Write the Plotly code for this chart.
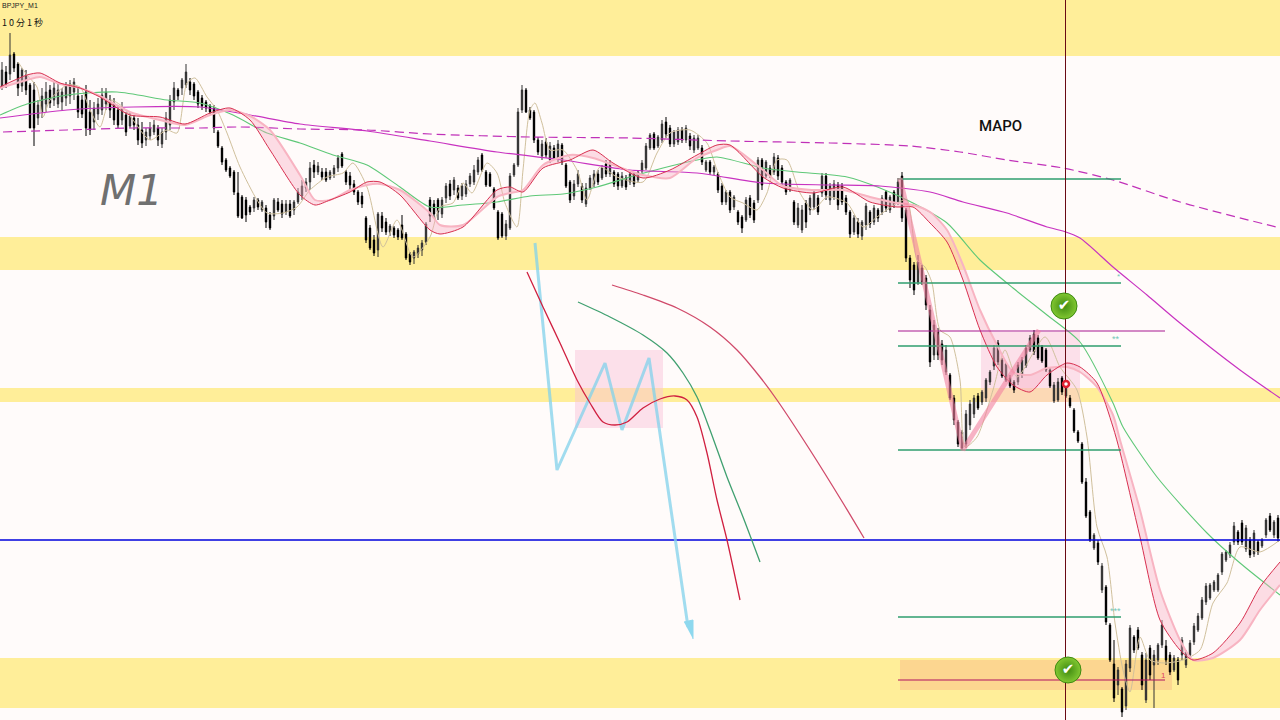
import numpy as np
import plotly.graph_objects as go

# ---- candle data (one value per minute bar; chart scale runs downward)
highs = [62,66,33,52,62,68,70,83,82,100, 88,82,85,82,84,88,82,80,78,88, 95,85,100,102,98,88,88,95,98,105, 102,112,112,115,118,122,128,122,120,125,
 128,112,95,82,88,78,64,78,82,90, 95,100,104,105,130,146,158,166,170,172, 195,197,205,197,198,200,205,212,198,198, 200,200,200,200,188,180,178,162,160,162,
 168,168,170,165,155,152,170,172,180,190, 192,216,225,235,212,212,218,224,226,228, 215,232,252,250,245,240,222,197,200,198, 197,183,180,177,185,183,180,173,165,157,
 153,170,172,187,210,212,220,173,163,108, 85,88,107,110,137,140,138,142,145,140, 143,163,180,180,170,183,183,175,170,170, 165,160,160,170,172,172,175,172,172,170,
 160,143,133,132,135,120,117,125,130,127, 127,125,133,135,135,145,160,160,165,172, 183,190,190,195,210,215,197,195,200,157, 158,160,165,153,155,165,180,178,200,203,
 205,200,195,190,195,173,173,183,180,182, 183,195,210,215,218,220,203,210,205,208, 195,190,195,190,178,172,208,255,262,255, 265,275,305,320,328,340,345,373,395,420,
 430,410,400,395,393,390,378,370,345,340, 358,362,375,380,362,357,345,335,330,335, 345,348,368,382,378,376,380,395,408,430, 442,478,510,533,540,563,585,623,640,667,
 687,660,625,635,627,652,653,645,650,643, 620,640,652,655,657,637,650,640,623,613, 597,583,583,580,573,552,550,542,522,530, 520,525,537,530,540,538,518,513,520,515]
lows = [90,88,80,72,96,92,95,128,146,125, 118,112,108,106,108,110,106,104,100,118, 118,136,135,130,120,115,110,118,125,128, 125,136,128,130,145,148,146,140,135,146,
 148,140,130,110,100,95,88,95,100,108, 110,112,114,133,148,165,172,178,195,218, 219,222,215,212,210,212,228,230,220,212, 218,215,218,215,204,200,192,190,178,175,
 180,182,180,178,172,168,185,190,195,205, 208,243,250,256,257,232,235,236,238,240, 240,260,265,264,258,256,245,222,218,220, 218,203,200,195,200,200,197,187,185,175,
 172,187,187,210,240,238,240,230,177,167, 113,113,120,143,155,160,158,163,160,162, 165,188,203,200,187,203,207,190,187,185, 180,177,177,187,190,188,190,185,187,183,
 173,170,150,150,148,143,138,147,147,145, 143,143,150,153,150,165,172,175,175,193, 205,205,213,210,225,233,222,218,223,203, 190,178,178,175,180,185,195,192,225,228,
 233,228,215,210,215,197,200,205,200,210, 205,215,238,235,238,240,230,228,225,222, 215,212,213,208,205,222,262,288,295,285, 285,310,367,360,360,365,375,400,425,447,
 450,448,430,418,410,405,402,385,370,365, 378,382,388,393,385,378,368,352,355,360, 363,372,388,403,402,395,398,408,433,443, 484,518,542,550,565,593,625,662,702,695,
 717,710,672,653,650,690,703,680,708,665, 648,665,675,672,685,660,668,658,645,632, 620,605,600,592,592,575,562,558,545,545, 545,552,558,557,555,548,538,532,538,542]
opens = [86,72,74,54,64,86,76,85,90,118, 112,104,90,100,104,102,98,96,92,96, 100,92,112,122,114,110,104,100,104,110, 120,115,126,118,125,130,140,136,132,128,
 144,132,125,102,90,88,85,82,84,92, 98,102,106,108,132,148,160,168,172,193, 197,200,207,208,200,210,208,215,216,202, 204,212,204,210,202,196,188,182,165,172,
 172,172,178,174,168,154,172,176,184,192, 196,218,228,240,250,216,222,232,228,230, 225,234,254,258,254,250,242,200,204,200, 214,198,184,190,188,196,194,184,182,172,
 155,172,174,189,212,214,236,228,175,165, 110,90,110,112,140,156,142,160,148,158, 145,165,182,196,184,186,204,188,184,174, 178,164,174,172,174,186,178,182,174,180,
 171,168,148,134,146,140,122,128,144,142, 130,140,136,150,148,148,170,162,172,174, 186,202,192,207,212,217,220,198,203,200, 160,176,168,172,158,168,182,190,202,225,
 230,203,210,207,198,193,176,200,197,185, 186,198,212,232,222,236,225,212,222,210, 212,192,210,192,203,176,210,258,265,282, 268,278,310,355,332,344,372,375,398,422,
 448,444,425,414,396,402,398,382,366,343, 360,380,378,382,382,375,366,350,334,338, 347,350,370,401,400,378,396,398,410,432, 444,482,512,548,543,590,587,625,664,685,
 689,706,668,637,630,655,700,648,665,660, 645,646,655,670,660,655,665,655,642,630, 618,602,598,590,590,572,560,555,542,532, 523,549,540,554,542,546,535,516,535,518]
closes = [70,84,55,68,88,70,90,128,128,105, 96,92,103,88,90,92,86,84,82,112, 114,128,130,108,104,95,92,110,120,125, 108,132,116,125,140,143,132,128,125,140,
 132,118,100,88,96,80,72,90,96,104, 106,108,112,128,146,162,170,176,192,216, 218,215,212,200,207,202,222,228,200,210, 214,204,216,202,192,186,182,168,172,166,
 177,180,172,168,158,166,182,185,192,202, 204,240,248,253,214,228,232,226,235,237, 238,258,262,252,248,243,224,216,214,212, 200,186,196,180,198,186,184,176,170,160,
 170,185,186,208,238,236,224,176,165,112, 90,112,118,140,152,144,155,146,158,144, 162,186,200,184,174,200,188,178,174,182, 168,174,164,184,186,176,187,174,184,172,
 163,146,135,148,137,124,134,144,132,130, 140,128,146,138,138,162,162,172,167,190, 202,192,210,197,222,228,200,215,220,160, 185,162,176,157,176,182,192,180,222,208,
 210,222,198,193,212,176,195,186,184,205, 202,212,234,218,234,222,206,224,208,218, 198,208,197,205,182,218,258,280,290,262, 282,305,362,325,355,360,350,398,420,444,
 432,414,404,398,408,392,380,372,348,362, 376,364,386,390,365,360,348,338,352,358, 361,370,386,385,382,392,384,406,431,441, 482,516,540,535,562,566,622,660,698,670,
 712,664,628,650,648,685,660,675,655,645, 625,660,672,658,680,640,652,643,626,616, 600,586,585,582,575,554,552,545,526,542, 542,528,555,533,552,540,520,530,522,538]

# ---- moving averages
ma_x = [0,27,40,60,80,100,130,160,185,210,230,250,270,300,315,330,350,367,380,400,430,440,463,497,510,523,543,570,593,613,643,670,697,717,730,763,783,813,843,870,897,913,930,947,963,980,997,1013,1030,1047,1067,1080,1097,1113,1120,1140,1160,1180,1193,1213,1240,1260,1280]
ema_fast = [87,75,73,83,88,97,115,117,124,113,108,120,150,195,205,200,192,182,182,195,230,234,227,190,187,192,168,160,150,163,178,170,155,145,145,177,188,193,187,202,207,207,223,242,280,330,367,385,392,375,363,367,383,427,452,537,620,650,660,653,623,587,562]
ema_slow = [88,80,77,84,88,96,112,120,125,115,110,116,130,175,200,200,190,185,184,190,213,225,225,197,193,190,165,155,158,165,175,178,158,150,146,170,186,190,190,197,203,205,212,230,265,310,345,372,375,368,367,372,387,415,440,510,590,640,660,658,640,610,585]

sma_x = [0,67,133,200,250,300,367,430,497,563,630,697,763,830,880,930,963,1007,1047,1063,1080,1113,1147,1180,1240,1280]
sma_long = [118,110,107,107,115,124,131,141,152,160,170,173,183,185,186,192,202,213,227,231,238,267,295,323,370,398]

dash_x = [3,67,133,200,240,300,367,430,530,630,730,830,910,960,1007,1063,1113,1180,1280]
sma_dash = [132,130,128,128,127,129,130,134,137,138,141,143,146,152,160,168,180,202,228]

green_x = [0,27,67,117,167,200,233,267,300,333,367,400,430,463,497,530,563,597,630,663,697,717,763,797,847,880,913,947,980,1013,1047,1080,1113,1123,1157,1207,1240,1280]
green_ma = [115,104,95,92,100,103,115,133,143,155,165,187,207,205,202,196,194,187,177,168,160,157,168,172,177,188,203,223,260,288,315,342,403,427,477,533,563,595]

tan_x = [18,27,37,43,50,67,80,90,100,110,123,133,150,167,177,187,195,207,217,227,240,257,267,283,297,310,327,343,353,367,383,397,413,430,440,453,463,472,487,497,505,517,523,530,535,542,550,563,577,587,600,617,643,657,670,690,707,717,730,743,757,767,777,787,800,813,827,847,863,877,897,907,917,925,932,940,950,960,965,977,993,1005,1017,1045,1060,1077,1087,1097,1107,1115,1123,1130,1140,1150,1165,1183,1200,1213,1227,1240,1260,1280]
tan_ma = [62,75,87,117,100,85,87,110,127,100,107,120,140,130,133,83,78,97,110,133,167,200,213,213,207,190,177,173,163,187,247,220,257,237,207,203,183,193,163,173,203,227,170,110,103,123,150,150,170,200,167,177,182,153,133,130,143,170,197,203,210,193,160,160,193,210,197,203,227,217,203,200,260,267,283,330,337,380,447,437,390,350,377,337,367,390,437,527,557,623,670,692,637,660,663,660,650,603,583,547,552,540]

# ---- hand-drawn sketch
zig_x = [535,557,605,622,649,688]
zig_y = [243,470,363,430,358,627]
arrow_x = [684,693,693]
arrow_y = [622,620,639]
red_x = [527,543,560,577,590,603,615,627,643,660,675,687,697,707,717,727,740]
red_y = [272,307,343,380,403,422,425,422,408,399,396,400,417,453,500,540,600]
grn_x = [578,610,643,667,683,697,710,727,743,760]
grn_y = [302,317,335,353,373,397,430,477,517,562]
pnk_x = [612,643,677,710,737,760,777,810,843,864]
pnk_y = [285,295,308,327,350,377,400,450,503,538]
wave_x = [900,963,1039]
wave_y = [178,450,330]

# ---- levels
band_tops = [0,237,388,658]
band_bottoms = [56,270,402,708]
green_levels = [179,283,346,450,617]
level_start, level_end = 898,1121
blue_level = 540
cursor_x = 1065.5
purple_levels = [331,680]
purple_end = 1165
checks_x, checks_y = [1064,1068],[306,670]

candle_x = 2 + 4*np.arange(len(highs))

fig = go.Figure()
fig.add_trace(go.Candlestick(x=candle_x, open=opens, high=highs, low=lows, close=closes,
    increasing=dict(line=dict(color="#000000",width=1),fillcolor="#000000"),
    decreasing=dict(line=dict(color="#333333",width=1),fillcolor="#8a8a8a"),
    whiskerwidth=0, hoverinfo="skip"))

def line(x,y,color,width,dash=None,shape="spline",smooth=0.7,**kw):
    l = dict(color=color,width=width)
    if dash: l["dash"]=dash
    if shape: l["shape"]=shape
    if shape=="spline": l["smoothing"]=smooth
    fig.add_trace(go.Scatter(x=x,y=y,mode="lines",line=l,hoverinfo="skip",**kw))

line(tan_x,tan_ma,"#d0c09c",1)
line(green_x,green_ma,"#5fc878",1.1)
line(dash_x,sma_dash,"#c030b8",1.2,dash="9px,5px")
line(sma_x,sma_long,"#c832c0",1.2)
line(ma_x,ema_slow,"#f8b4c2",2)
line(ma_x,ema_fast,"#d83050",1,fill="tonexty",fillcolor="rgba(248,175,195,0.4)")

for y in green_levels:
    line([level_start,level_end],[y,y],"#2f9e6e",1.6,shape=None)
for y,w,c in zip(purple_levels,[1.2,1],["#a81890","#b01060"]):
    line([level_start,purple_end],[y,y],c,w,shape=None)
line([0,1280],[blue_level,blue_level],"#0000dd",1.6,shape=None)
line([cursor_x,cursor_x],[0,720],"#6a0a14",1,shape=None)

line(wave_x,wave_y,"rgba(242,130,160,0.6)",5,shape=None)
line(zig_x,zig_y,"rgba(130,210,235,0.75)",3,shape=None)
fig.add_trace(go.Scatter(x=arrow_x,y=arrow_y,mode="lines",fill="toself",fillcolor="#8ed8ee",line=dict(color="#8ed8ee",width=1),hoverinfo="skip"))
line(red_x,red_y,"#d02040",1.3,smooth=0.8)
line(grn_x,grn_y,"#40a070",1.3,smooth=0.8)
line(pnk_x,pnk_y,"#d04a6a",1.3,smooth=0.8)

fig.add_trace(go.Scatter(x=checks_x,y=checks_y,mode="markers+text",text=["✔","✔"],textposition="middle center",
    textfont=dict(color="white",size=15,family="DejaVu Sans"),
    marker=dict(size=26,color="#82c832",gradient=dict(type="radial",color="#3f8a10"),line=dict(color="#3d8a10",width=1)),hoverinfo="skip"))
fig.add_trace(go.Scatter(x=[1066],y=[384],mode="markers",marker=dict(size=6,color="white",line=dict(color="#e02030",width=2.5)),hoverinfo="skip"))

shapes=[]
for t,b in zip(band_tops,band_bottoms):
    shapes.append(dict(type="rect",x0=0,x1=1280,y0=t,y1=b,fillcolor="#ffee99",line_width=0,layer="below"))
shapes.append(dict(type="rect",x0=575,x1=663,y0=350,y1=428,fillcolor="rgba(248,190,215,0.45)",line_width=0,layer="below"))
shapes.append(dict(type="rect",x0=981,x1=1080,y0=332,y1=402,fillcolor="rgba(248,190,215,0.45)",line_width=0,layer="below"))
shapes.append(dict(type="rect",x0=900,x1=1172,y0=660,y1=690,fillcolor="rgba(248,180,130,0.42)",line_width=0,layer="below"))

def note(x,y,t,size,color,family="Liberation Sans",anchor="left",**kw):
    return dict(x=x,y=y,text=t,showarrow=False,xanchor=anchor,yanchor="middle",font=dict(size=size,color=color,family=family,**kw))
ann=[
 note(1000,126,"MAPO",15,"#111111",family="Roboto",anchor="center",weight=500),
 note(131,190,"<i>M1</i>",42,"#707070",family="DejaVu Sans",anchor="center"),
 note(0,6,"BPJPY_M1",7,"#222222"),
 note(0,22,"1\u00a00\u00a0分\u00a01\u00a0秒",9,"#111111",family="Noto Sans CJK JP"),
 note(1163,675,"1",8,"#e04060",anchor="center"),
 note(1116,339,"**",9,"#70c8b8",anchor="center"),
 note(1115,611,"***",9,"#70c8b8",anchor="center"),
 note(1118,276,"*",8,"#70c8b8",anchor="center"),
]

fig.update_layout(width=1280,height=720,margin=dict(l=0,r=0,t=0,b=0),paper_bgcolor="#fffbfa",plot_bgcolor="#fffbfa",
    showlegend=False,shapes=shapes,annotations=ann,boxgap=0.5,
    xaxis=dict(range=[0,1280],visible=False,rangeslider=dict(visible=False),fixedrange=True),
    yaxis=dict(range=[720,0],visible=False,fixedrange=True))
fig.write_html("out.html",post_script="document.body.style.margin='0';document.body.style.overflow='hidden';",config=dict(displayModeBar=False))
